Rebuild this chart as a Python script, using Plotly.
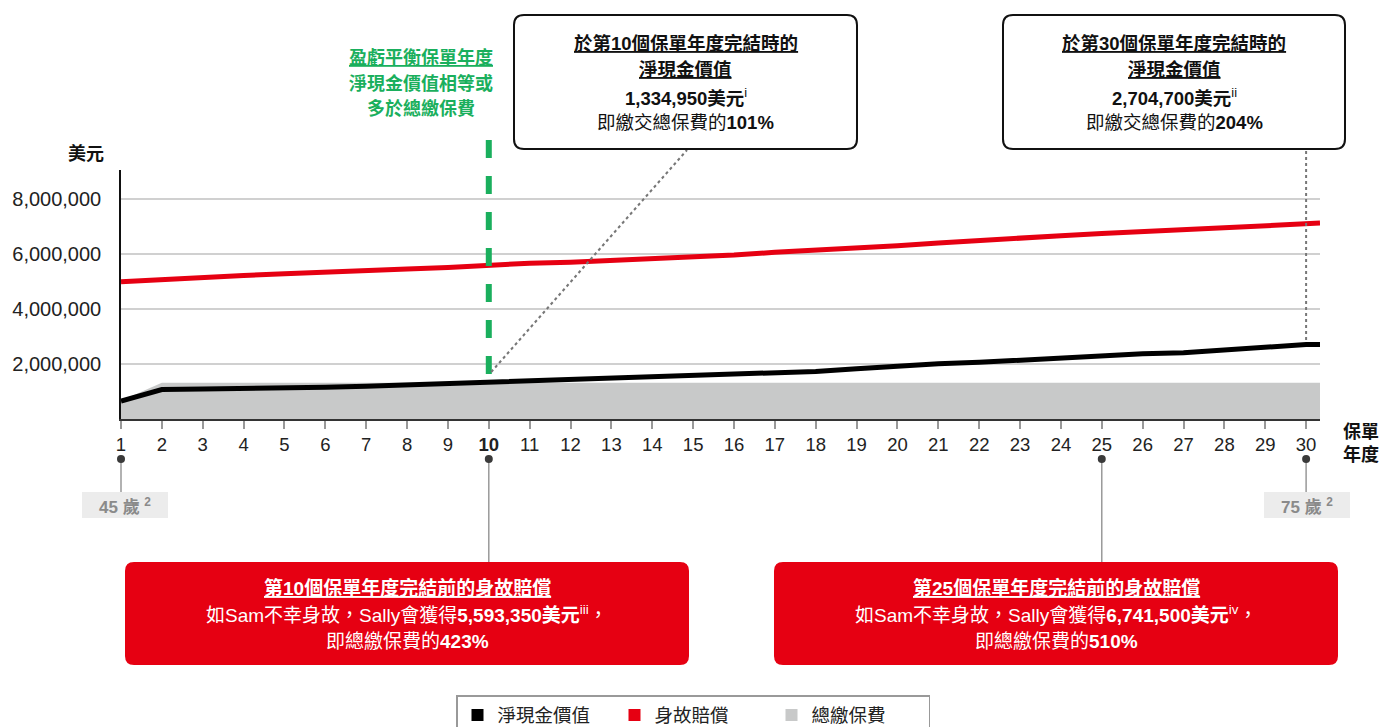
import plotly.graph_objects as go

# ---------------- data ----------------
years = list(range(1, 31))
net_cash_value = [0.65, 1.07, 1.09, 1.10, 1.14, 1.15, 1.19, 1.24, 1.29, 1.33495,
                  1.42, 1.44, 1.48, 1.54, 1.61, 1.65, 1.68, 1.73, 1.83, 1.93,
                  2.01, 2.06, 2.14, 2.20, 2.31, 2.37, 2.41, 2.52, 2.62, 2.7047]
death_benefit = [4.99, 5.08, 5.13, 5.22, 5.28, 5.35, 5.41, 5.45, 5.51, 5.59335,
                 5.66, 5.70, 5.76, 5.81, 5.88, 5.96, 6.06, 6.13, 6.20, 6.30,
                 6.40, 6.50, 6.59, 6.66, 6.7415, 6.81, 6.87, 6.95, 7.05, 7.12]
total_premium = [0.66] + [1.3217] * 29
y_tickvals = [2e6, 4e6, 6e6, 8e6]
x_ticktext = [("<b>10</b>" if y == 10 else str(y)) for y in years]
marked_years = [1, 10, 25, 30]

M = 1e6
X_END = 30.34
xs = years + [X_END]
ncv = [v * M for v in net_cash_value] + [net_cash_value[-1] * M]
dbf = [v * M for v in death_benefit] + [death_benefit[-1] * M]
prem = [v * M for v in total_premium] + [total_premium[-1] * M]

FONT = "Arial, 'Liberation Sans', 'Noto Sans CJK TC', sans-serif"
RED = "#e60012"
GREEN = "#1aaf5d"
GREY = "#c8c9c9"

# plot area in pixels
L, R, T, B = 121, 1320, 170, 419
W, H = 1381, 727


def px(x):
    return (x - L) / (R - L)


def py(y):
    return (B - y) / (B - T)


def xp(year):
    return (year - 1) / (X_END - 1)


def rrect(x0, y0, x1, y1, r):
    def P(a, b):
        return f"{px(a):.5f},{py(b):.5f}"
    return (f"M {P(x0+r,y0)} L {P(x1-r,y0)} Q {P(x1,y0)} {P(x1,y0+r)} "
            f"L {P(x1,y1-r)} Q {P(x1,y1)} {P(x1-r,y1)} L {P(x0+r,y1)} "
            f"Q {P(x0,y1)} {P(x0,y1-r)} L {P(x0,y0+r)} Q {P(x0,y0)} {P(x0+r,y0)} Z")


fig = go.Figure()
fig.add_trace(go.Scatter(x=xs, y=prem, mode="lines", fill="tozeroy",
                         line=dict(color=GREY, width=0), fillcolor=GREY,
                         showlegend=False, hoverinfo="skip"))
fig.add_trace(go.Scatter(x=xs, y=dbf, mode="lines", line=dict(color=RED, width=5),
                         showlegend=False))
fig.add_trace(go.Scatter(x=xs, y=ncv, mode="lines", line=dict(color="#000000", width=5),
                         showlegend=False))
# legend entries (squares)
for name, col in [("淨現金價值", "#000000"), ("身故賠償", RED), ("總繳保費", GREY)]:
    fig.add_trace(go.Scatter(x=[None], y=[None], mode="markers", name=name,
                             marker=dict(symbol="square", size=12, color=col)))

shapes = []
annotations = []

# green dashed break-even line
shapes.append(dict(type="line", xref="paper", yref="paper", x0=xp(10), x1=xp(10),
                   y0=py(374), y1=py(125), line=dict(color=GREEN, width=6, dash="dash")))
# dotted connectors
shapes.append(dict(type="line", xref="paper", yref="paper", x0=xp(10) + 0.002, x1=px(687),
                   y0=py(372), y1=py(150), line=dict(color="#777777", width=2, dash="dot")))
shapes.append(dict(type="line", xref="paper", yref="paper", x0=xp(30), x1=xp(30),
                   y0=py(340), y1=py(150), line=dict(color="#777777", width=2, dash="dot")))

# top boxes
for (x0, x1, lines) in [
    (514, 857, ["<b><u>於第10個保單年度完結時的</u></b>", "<b><u>淨現金價值</u></b>",
                "<b>1,334,950美元</b><sup>i</sup>", "即繳交總保費的<b>101%</b>"]),
    (1003, 1345, ["<b><u>於第30個保單年度完結時的</u></b>", "<b><u>淨現金價值</u></b>",
                  "<b>2,704,700美元</b><sup>ii</sup>", "即繳交總保費的<b>204%</b>"]),
]:
    shapes.append(dict(type="path", xref="paper", yref="paper", path=rrect(x0, 15, x1, 149, 10),
                       fillcolor="white", line=dict(color="#111111", width=2)))
    cx = (x0 + x1) / 2
    for ty, txt in zip([43, 70, 97, 122], lines):
        annotations.append(dict(xref="paper", yref="paper", x=px(cx), y=py(ty), text=txt,
                                showarrow=False, xanchor="center", yanchor="middle",
                                font=dict(size=18.5, color="#111111", family=FONT)))

# green text
for ty, txt in zip([58, 83, 108], ["<b><u>盈虧平衡保單年度</u></b>", "<b>淨現金價值相等或</b>",
                                   "<b>多於總繳保費</b>"]):
    annotations.append(dict(xref="paper", yref="paper", x=px(421), y=py(ty), text=txt,
                            showarrow=False, xanchor="center", yanchor="middle",
                            font=dict(size=18, color=GREEN, family=FONT)))

# bottom markers, connectors
for yr, yend in zip(marked_years, [492, 562, 562, 492]):
    shapes.append(dict(type="line", xref="paper", yref="paper", x0=xp(yr), x1=xp(yr),
                       y0=py(459), y1=py(yend), line=dict(color="#999999", width=1.5)))
    shapes.append(dict(type="circle", xref="paper", yref="paper", xsizemode="pixel",
                       ysizemode="pixel", xanchor=xp(yr), yanchor=py(459), x0=-4, x1=4,
                       y0=-4, y1=4, fillcolor="#3a3a3a", line=dict(width=0)))

# age labels
for cx, txt in [(125, "45 歲 <sup>2</sup>"), (1307, "75 歲 <sup>2</sup>")]:
    shapes.append(dict(type="rect", xref="paper", yref="paper", x0=px(cx - 43), x1=px(cx + 43),
                       y0=py(492), y1=py(518), fillcolor="#ececec", line=dict(width=0)))
    annotations.append(dict(xref="paper", yref="paper", x=px(cx), y=py(506), text="<b>" + txt + "</b>",
                            showarrow=False, xanchor="center", yanchor="middle",
                            font=dict(size=17, color="#8a8a8a", family=FONT)))

# red boxes
for (x0, x1, lines) in [
    (125, 689, ["<b><u>第10個保單年度完結前的身故賠償</u></b>",
                "如Sam不幸身故，Sally會獲得<b>5,593,350美元</b><sup>iii</sup>，",
                "即總繳保費的<b>423%</b>"]),
    (774, 1338, ["<b><u>第25個保單年度完結前的身故賠償</u></b>",
                 "如Sam不幸身故，Sally會獲得<b>6,741,500美元</b><sup>iv</sup>，",
                 "即總繳保費的<b>510%</b>"]),
]:
    shapes.append(dict(type="path", xref="paper", yref="paper", path=rrect(x0, 562, x1, 665, 9),
                       fillcolor=RED, line=dict(width=0)))
    cx = (x0 + x1) / 2
    for ty, txt in zip([588, 614, 641], lines):
        annotations.append(dict(xref="paper", yref="paper", x=px(cx), y=py(ty), text=txt,
                                showarrow=False, xanchor="center", yanchor="middle",
                                font=dict(size=19, color="white", family=FONT)))

# axis titles
annotations.append(dict(xref="paper", yref="paper", x=px(86), y=py(153), text="<b>美元</b>",
                        showarrow=False, xanchor="center", yanchor="middle",
                        font=dict(size=18, color="#111111", family=FONT)))
annotations.append(dict(xref="paper", yref="paper", x=px(1361), y=py(443), text="<b>保單<br>年度</b>",
                        showarrow=False, xanchor="center", yanchor="middle",
                        font=dict(size=18, color="#111111", family=FONT)))

fig.update_layout(
    width=W, height=H,
    margin=dict(l=L, r=W - R, t=T, b=H - B, autoexpand=False),
    plot_bgcolor="white", paper_bgcolor="white",
    font=dict(family=FONT, size=17, color="#222222"),
    shapes=shapes, annotations=annotations,
    showlegend=True,
    legend=dict(orientation="h", x=px(693), xanchor="center", y=py(695), yanchor="top",
                bordercolor="#999999", borderwidth=1.5, font=dict(size=18.5, color="#222222"),
                entrywidth=112, entrywidthmode="pixels", itemsizing="constant"),
)
fig.update_xaxes(range=[1, X_END], tickmode="array", tickvals=years, ticktext=x_ticktext,
                 showgrid=False, showline=True, linecolor="#333333", linewidth=2,
                 ticks="outside", ticklen=8, tickcolor="#999999", tickwidth=1.5,
                 tickfont=dict(size=18.5, color="#222222"), zeroline=False, fixedrange=True)
fig.update_yaxes(range=[0, 9.05e6], tickmode="array", tickvals=y_tickvals,
                 tickformat=",d", showgrid=True, gridcolor="#d0d0d0", gridwidth=1.5,
                 showline=True, linecolor="#111111", linewidth=1.5, ticks="",
                 ticklabelstandoff=14,
                 tickfont=dict(size=20, color="#222222"), zeroline=False)

fig.write_html("out.html", config={"displayModeBar": False},
               post_script="document.body.style.margin='0px';")
